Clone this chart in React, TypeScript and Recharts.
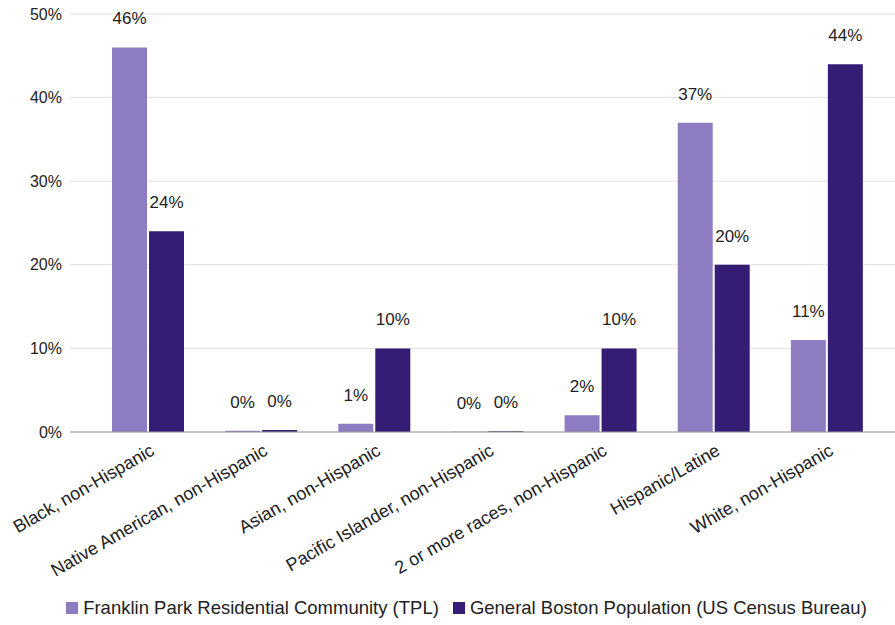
import { BarChart, Bar, XAxis, YAxis, CartesianGrid, Legend, LabelList } from 'recharts'

const categories = [
  'Black, non-Hispanic',
  'Native American, non-Hispanic',
  'Asian, non-Hispanic',
  'Pacific Islander, non-Hispanic',
  '2 or more races, non-Hispanic',
  'Hispanic/Latine',
  'White, non-Hispanic'
]
const franklinPark = [46, 0.15, 1, 0.03, 2, 37, 11]
const bostonCensus = [24, 0.25, 10, 0.1, 10, 20, 44]
const yTicks = [0, 10, 20, 30, 40, 50]

const LIGHT = '#8e7cc3'
const DARK = '#351c75'
const FONT = '"Liberation Sans", Arial, sans-serif'

const data = categories.map((name, i) => ({
  name,
  tpl: franklinPark[i],
  census: bostonCensus[i]
}))

const legendItems = [
  { label: 'Franklin Park Residential Community (TPL)', color: LIGHT },
  { label: 'General Boston Population (US Census Bureau)', color: DARK }
]

const AngledTick = ({ x, y, payload }: any) => (
  <g transform={`translate(${x + 8},${y + 14})`}>
    <text textAnchor="end" transform="rotate(-30)" fill="#222" fontSize={18} fontFamily={FONT}>
      {payload.value}
    </text>
  </g>
)

const LegendContent = () => (
  <div
    style={{
      display: 'flex',
      justifyContent: 'center',
      alignItems: 'center',
      paddingLeft: 38,
      fontFamily: FONT,
      fontSize: 18.5,
      color: '#222'
    }}
  >
    {legendItems.map((item, i) => (
      <div key={i} style={{ display: 'flex', alignItems: 'center', marginRight: i === 0 ? 14 : 0 }}>
        <span style={{ width: 12, height: 12, background: item.color, marginRight: 5, display: 'inline-block' }} />
        <span>{item.label}</span>
      </div>
    ))}
  </div>
)

const pct = (v: any) => `${Math.round(Number(v))}%`

export default function App() {
  return (
    <div style={{ width: 895, height: 625, background: '#fff' }}>
      <style>{'body{margin:0}'}</style>
      <BarChart
        width={895}
        height={625}
        data={data}
        margin={{ top: 14, right: 0, bottom: 0, left: 0 }}
        barSize={35}
        barGap={2}
      >
        <CartesianGrid vertical={false} stroke="#e0e0e0" />
        <XAxis
          dataKey="name"
          interval={0}
          height={165}
          tick={<AngledTick />}
          tickLine={false}
          axisLine={{ stroke: '#999' }}
          padding={{ left: 21, right: 12 }}
        />
        <YAxis
          width={70}
          domain={[0, 50]}
          ticks={yTicks}
          tickFormatter={(v) => `${v}%`}
          axisLine={false}
          tickLine={false}
          tickSize={0}
          tickMargin={8}
          tick={{ fill: '#222', fontSize: 16, fontFamily: FONT }}
        />
        <Legend verticalAlign="bottom" height={28} content={<LegendContent />} />
        <Bar dataKey="tpl" name="Franklin Park Residential Community (TPL)" fill={LIGHT} isAnimationActive={false}>
          <LabelList dataKey="tpl" position="top" offset={23} formatter={pct} fill="#222" fontSize={17} fontFamily={FONT} />
        </Bar>
        <Bar dataKey="census" name="General Boston Population (US Census Bureau)" fill={DARK} isAnimationActive={false}>
          <LabelList dataKey="census" position="top" offset={23} formatter={pct} fill="#222" fontSize={17} fontFamily={FONT} />
        </Bar>
      </BarChart>
    </div>
  )
}
